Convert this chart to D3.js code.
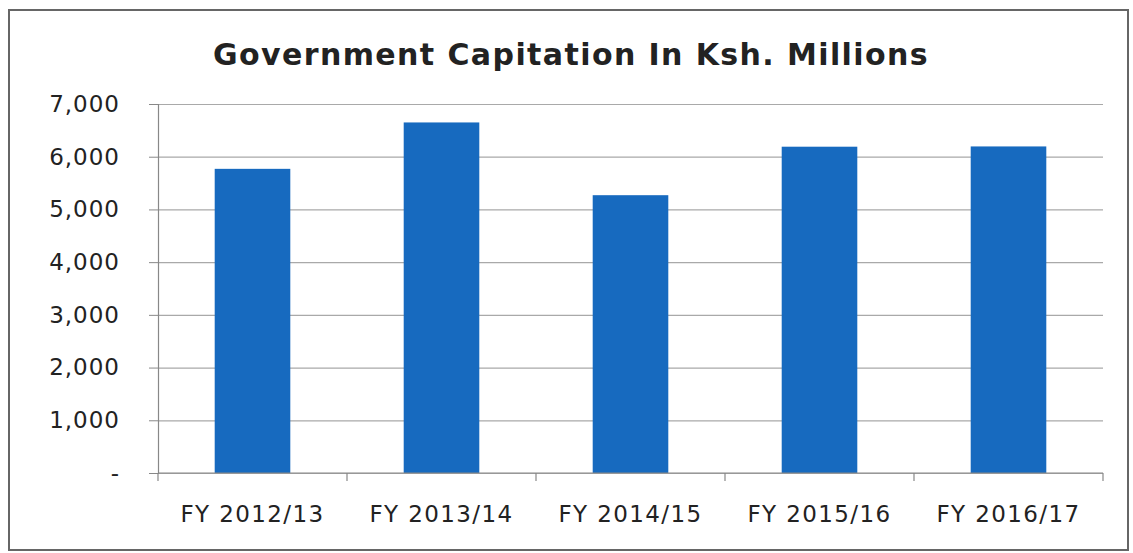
<!DOCTYPE html>
<html>
<head>
<meta charset="utf-8">
<script src="https://cdn.jsdelivr.net/npm/d3@7"></script>
<style>
  body { margin: 0; background: #fff; }
  svg { display: block; }
</style>
</head>
<body>
<div id="chart"></div>
<script>
// Data
const categories = ["FY 2012/13", "FY 2013/14", "FY 2014/15", "FY 2015/16", "FY 2016/17"];
const capitation = [5770, 6650, 5270, 6190, 6195];
const yTicks = [0, 1000, 2000, 3000, 4000, 5000, 6000, 7000];
const title = "Government Capitation In Ksh. Millions";

// Colors
const bar_color = "#176abf";
const grid_color = "#a9a9a9";
const text_color = "#222";

const width = 1133;
const height = 553;
const plot = { left: 158, right: 1103, top: 104, bottom: 473 };

const svg = d3.select("#chart")
  .append("svg")
  .attr("width", width)
  .attr("height", height);

// Outer frame
svg.append("rect")
  .attr("x", 9)
  .attr("y", 10)
  .attr("width", 1119)
  .attr("height", 540)
  .attr("fill", "none")
  .attr("stroke", "#666")
  .attr("stroke-width", 2);

// Scales
const xScale = d3.scaleBand()
  .domain(categories)
  .range([plot.left, plot.right])
  .paddingInner(0.6)
  .paddingOuter(0.3);

const yScale = d3.scaleLinear()
  .domain([0, 7000])
  .range([plot.bottom, plot.top]);

// Grid
svg.append("g")
  .attr("class", "grid")
  .attr("transform", `translate(${plot.left},0)`)
  .call(d3.axisLeft(yScale).tickValues(yTicks).tickSize(-(plot.right - plot.left)).tickFormat(""))
  .call(g => g.select(".domain").remove())
  .call(g => g.selectAll(".tick line").attr("stroke", grid_color).attr("stroke-width", 1.2));

// Y axis
const fmt = d3.format(",");
svg.append("g")
  .attr("transform", `translate(${plot.left},0)`)
  .call(d3.axisLeft(yScale).tickValues(yTicks).tickSize(9).tickPadding(29)
    .tickFormat(d => d === 0 ? "-" : fmt(d)))
  .call(g => g.select(".domain").attr("stroke", "#888").attr("stroke-width", 1.2))
  .call(g => g.selectAll(".tick line").attr("stroke", "#888"))
  .call(g => g.selectAll(".tick text")
    .attr("fill", text_color)
    .style("font-family", "DejaVu Sans")
    .style("font-size", "23px")
    .style("letter-spacing", "1px"));

// Bars
svg.selectAll(".bar")
  .data(categories)
  .enter().append("rect")
  .attr("class", "bar")
  .attr("x", d => xScale(d))
  .attr("width", xScale.bandwidth())
  .attr("y", (d, i) => yScale(capitation[i]))
  .attr("height", (d, i) => yScale(0) - yScale(capitation[i]))
  .attr("fill", bar_color);

// X axis (ticks on category boundaries)
const step = xScale.step();
const boundaries = d3.range(categories.length + 1).map(i => plot.left + i * step);
svg.append("line")
  .attr("x1", plot.left).attr("x2", plot.right)
  .attr("y1", plot.bottom).attr("y2", plot.bottom)
  .attr("stroke", "#888").attr("stroke-width", 1.2);
svg.selectAll(".xtick")
  .data(boundaries)
  .enter().append("line")
  .attr("class", "xtick")
  .attr("x1", d => d).attr("x2", d => d)
  .attr("y1", plot.bottom).attr("y2", plot.bottom + 8)
  .attr("stroke", "#888").attr("stroke-width", 1.2);

svg.selectAll(".xlabel")
  .data(categories)
  .enter().append("text")
  .attr("class", "xlabel")
  .attr("x", d => xScale(d) + xScale.bandwidth() / 2)
  .attr("y", 522)
  .attr("text-anchor", "middle")
  .attr("fill", text_color)
  .style("font-family", "DejaVu Sans")
  .style("font-size", "23px")
  .style("letter-spacing", "1.4px")
  .text(d => d);

// Title
svg.append("text")
  .attr("x", 571)
  .attr("y", 65)
  .attr("text-anchor", "middle")
  .attr("fill", text_color)
  .style("font-family", "DejaVu Sans")
  .style("font-weight", "bold")
  .style("font-size", "30px")
  .style("letter-spacing", "1.4px")
  .text(title);
</script>
</body>
</html>
